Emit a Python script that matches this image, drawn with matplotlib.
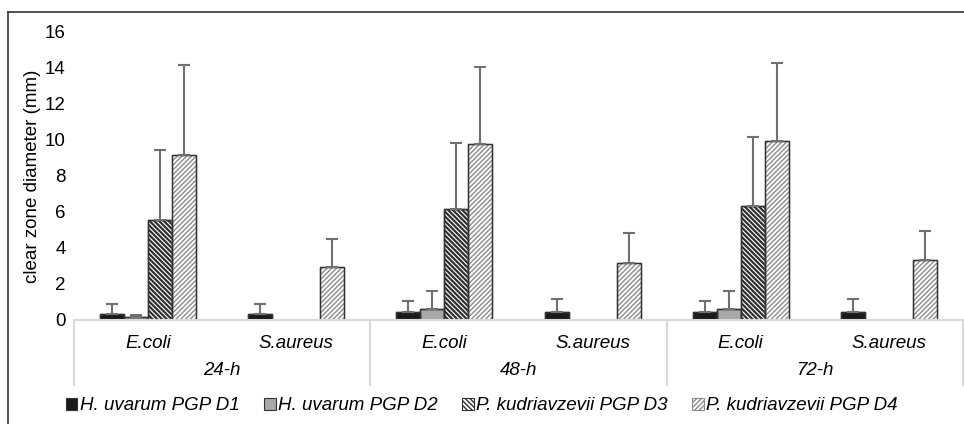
import matplotlib.pyplot as plt
from matplotlib.lines import Line2D
from matplotlib.patches import Patch
import numpy as np

plt.rcParams["font.family"] = ["Liberation Sans", "DejaVu Sans"]

# Data
times = ["24-h", "48-h", "72-h"]
bacteria = ["E.coli", "S.aureus"]
series = ["H. uvarum PGP D1", "H. uvarum PGP D2",
          "P. kudriavzevii PGP D3", "P. kudriavzevii PGP D4"]

# order: 24-h E.coli, 24-h S.aureus, 48-h E.coli, 48-h S.aureus, 72-h E.coli, 72-h S.aureus
d1 = [0.35, 0.35, 0.43, 0.43, 0.43, 0.43]
d2 = [0.15, 0.0, 0.63, 0.0, 0.63, 0.0]
d3 = [5.56, 0.0, 6.15, 0.0, 6.33, 0.0]
d4 = [9.15, 2.93, 9.76, 3.15, 9.96, 3.35]

d1_err = [0.55, 0.55, 0.63, 0.75, 0.63, 0.75]
d2_err = [0.15, 0.0, 1.0, 0.0, 1.0, 0.0]
d3_err = [3.88, 0.0, 3.7, 0.0, 3.82, 0.0]
d4_err = [5.03, 1.59, 4.31, 1.7, 4.34, 1.61]

values = [d1, d2, d3, d4]
errors = [d1_err, d2_err, d3_err, d4_err]

faces = ["#1a1a1a", "#a8a8a8", "white", "white"]
hatches = [None, None, "\\\\\\\\\\\\\\", "///////"]
hatch_cols = ["#2a2a2a", "#404040", "#303030", "#8c8c8c"]
hatch_lw = [1.0, 1.0, 1.6, 1.0]

FS = 13.5

fig = plt.figure(figsize=(9.64, 4.24), dpi=100)
W, H = 964, 424
ax = fig.add_axes([74 / W, (H - 320) / H, (963 - 74) / W, 288 / H])

x = np.arange(len(d1)) + 0.5
bw = 0.162
handles = []
for i in range(4):
    pos = x + (i - 1.5) * bw
    vals = np.array(values[i])
    errs = np.array(errors[i])
    plt.rcParams["hatch.color"] = hatch_cols[i]
    plt.rcParams["hatch.linewidth"] = hatch_lw[i]
    mask = vals > 0
    ax.bar(pos[mask], vals[mask], width=bw, color=faces[i],
           edgecolor=hatch_cols[i] if hatches[i] else "#333333",
           hatch=hatches[i], linewidth=1.0, zorder=2)
    ax.errorbar(pos[mask], vals[mask], yerr=[np.zeros(mask.sum()), errs[mask]],
                fmt="none", ecolor="#707070", elinewidth=1.5, capsize=4,
                capthick=1.5, zorder=3)
    # outline on top of hatch
    ax.bar(pos[mask], vals[mask], width=bw, color="none",
           edgecolor="#333333", linewidth=1.0, zorder=2.5)
    handles.append(Patch(facecolor=faces[i],
                         edgecolor=hatch_cols[i] if hatches[i] else "#333333",
                         hatch=hatches[i], linewidth=0.8))

ax.set_xlim(0, len(d1))
ax.set_ylim(0, 16)
ax.set_yticks(range(0, 17, 2))
ax.tick_params(axis="y", length=0, labelsize=FS, pad=6)
for s in ["top", "right", "left"]:
    ax.spines[s].set_visible(False)
ax.spines["bottom"].set_color("#d9d9d9")
ax.spines["bottom"].set_linewidth(1.5)

ax.set_xticks(x)
ax.set_xticklabels(bacteria * len(times), fontstyle="italic", fontsize=FS)
ax.tick_params(axis="x", length=0, pad=11)

trans = ax.get_xaxis_transform()
for j, t in enumerate(times):
    ax.text(2 * j + 1, -0.175, t, transform=trans, ha="center", va="center",
            fontstyle="italic", fontsize=FS)
for b in range(len(times) + 1):
    ax.plot([2 * b, 2 * b], [0, -0.226], transform=trans, color="#d9d9d9",
            lw=1.5, clip_on=False)

ax.set_ylabel("clear zone diameter (mm)", fontsize=FS, labelpad=3)

fig.legend(handles, series, loc="center", bbox_to_anchor=(0.5, (H - 406) / H),
           ncol=4, frameon=False, prop={"style": "italic", "size": FS},
           handlelength=0.6, handleheight=0.6, handletextpad=0.15,
           columnspacing=1.3)

# outer frame (left and top only)
fig.add_artist(Line2D([8 / W, 8 / W], [0, (H - 12) / H], color="#333333", lw=1.2))
fig.add_artist(Line2D([8 / W, 1], [(H - 12) / H, (H - 12) / H], color="#333333", lw=1.2))

fig.savefig("out.png", dpi=100)
